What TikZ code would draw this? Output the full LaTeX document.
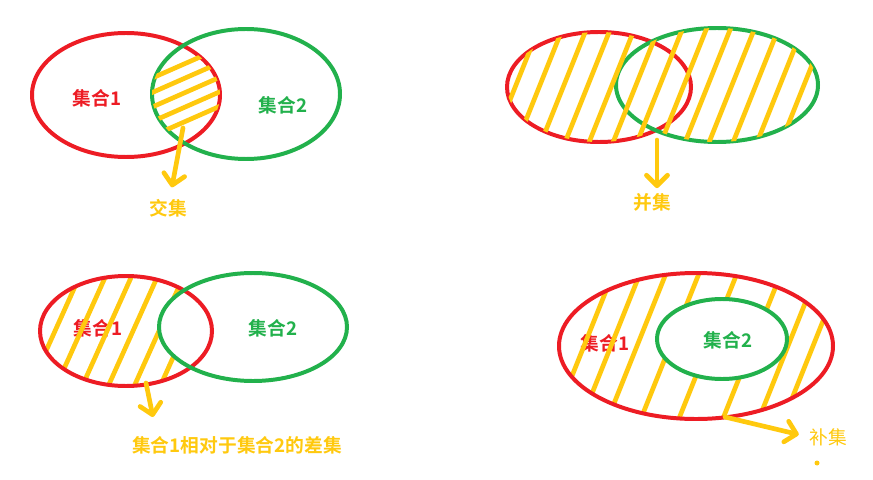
\documentclass[tikz,border=0pt]{standalone}
\usepackage{fontspec}
\newfontfamily\cjk{Noto Sans CJK SC}[BoldFont={Noto Sans CJK SC Bold}]
\usetikzlibrary{arrows.meta}

\definecolor{setred}{RGB}{237,28,36}
\definecolor{setgreen}{RGB}{34,177,76}
\definecolor{setgold}{RGB}{255,201,14}

\begin{document}
\begin{tikzpicture}[
    x=0.03cm, y=-0.03cm,
    setone/.style={draw=setred, line width=3.4pt},
    settwo/.style={draw=setgreen, line width=3.4pt},
    hatch/.style={draw=setgold, line width=4pt, line cap=round},
    pointer/.style={draw=setgold, line width=4pt, line cap=round, -{Straight Barb[length=9pt, width=18pt, round]}},
    settext/.style={font=\cjk\bfseries\fontsize{16}{19}\selectfont, inner sep=0pt}
]
\useasboundingbox[fill=white] (0,0) rectangle (873,480);

% Intersection (top left)
\draw[setone] (126,95) ellipse [x radius=94, y radius=62];
\draw[settwo] (246,94) ellipse [x radius=94, y radius=65];
\begin{scope}
    \clip (126,95) ellipse [x radius=94, y radius=62];
    \clip (246,94) ellipse [x radius=94, y radius=65];
    \foreach \y in {79,93.5,...,138} \draw[hatch] (140,\y+4.4) -- (260,\y-48.4);
\end{scope}
\node[settext, text=setred] (oneA) at (97,98) {集合1};
\node[settext, text=setgreen] (twoA) at (283,105) {集合2};
\coordinate (meet) at (183,128);
\node[settext, text=setgold] (meetlabel) at (168,208) {交集};
\draw[pointer, shorten >=10pt] (meet) -- (meetlabel);

% Union (top right)
\draw[setone] (599,87) ellipse [x radius=92, y radius=55];
\draw[settwo] (717,85) ellipse [x radius=101, y radius=57];
\begin{scope}
    \clip (599,87) ellipse [x radius=92, y radius=55] (717,85) ellipse [x radius=101, y radius=57];
    \foreach \x in {515,539,...,803} \draw[hatch] (\x+45,-25) -- (\x-45,200);
\end{scope}
\coordinate (join) at (657,140);
\node[settext, text=setgold] (joinlabel) at (652,202) {并集};
\draw[pointer, shorten >=4pt] (join) -- (join |- joinlabel.north);

% Difference (bottom left)
\node[settext, text=setred] (oneC) at (98,328) {集合1};
\begin{scope}
    \clip (126,331) ellipse [x radius=86, y radius=55];
    \foreach \x in {55,81,...,185} \draw[hatch] (\x+45,231) -- (\x-45,431);
\end{scope}
\fill[white] (253,327) ellipse [x radius=94, y radius=54];
\draw[setone] (126,331) ellipse [x radius=86, y radius=55];
\draw[settwo] (253,327) ellipse [x radius=94, y radius=54];
\node[settext, text=setgreen] (twoC) at (273,328) {集合2};
\coordinate (diff) at (146,383);
\coordinate (difftip) at (153,417);
\draw[pointer] (diff) -- (difftip);
\node[settext, text=setgold] (difflabel) at (237,445) {集合1相对于集合2的差集};

% Complement (bottom right)
\node[settext, text=setred] (oneD) at (605,343) {集合1};
\begin{scope}
    \clip (696,346) ellipse [x radius=137, y radius=73];
    \foreach \x in {584,611,637,670,708,752,788,813} \draw[hatch] (\x+40,246) -- (\x-40,446);
\end{scope}
\fill[white] (722,339) ellipse [x radius=65, y radius=40];
\draw[setone] (696,346) ellipse [x radius=137, y radius=73];
\draw[settwo] (722,339) ellipse [x radius=65, y radius=40];
\node[settext, text=setgreen] (twoD) at (728,340) {集合2};
\coordinate (comp) at (725,417);
\node[font=\cjk\fontsize{16}{19}\selectfont, text=setgold, inner sep=0pt] (complabel) at (828,437) {补集};
\draw[pointer, shorten >=9pt] (comp) -- (complabel.west);
\fill[setgold] (817,463) circle [radius=2.5];

\end{tikzpicture}
\end{document}
